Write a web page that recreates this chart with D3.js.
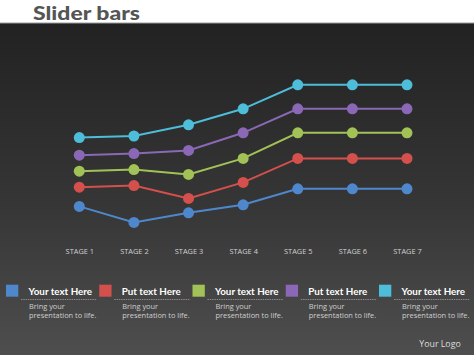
<!DOCTYPE html>
<html>
<head>
<meta charset="utf-8">
<script src="https://cdn.jsdelivr.net/npm/d3@7"></script>
<style>
html,body{margin:0;padding:0;background:#fff;}
svg{display:block;}
</style>
</head>
<body>
<svg id="chart" width="474" height="355"></svg>
<script>
const stages = ["STAGE 1","STAGE 2","STAGE 3","STAGE 4","STAGE 5","STAGE 6","STAGE 7"];
const seriesNames = ["Your text Here","Put text Here","Your text Here","Put text Here","Your text Here"];
const seriesColors = ["#4f87cd","#d4504d","#a2c257","#8a68b6","#4dbdd9"];
const blueValues   = [21, 11, 17, 22, 32, 32, 32];
const redValues    = [33, 34, 26, 36, 51, 51, 51];
const greenValues  = [43, 44, 41, 51, 67, 67, 67];
const purpleValues = [53, 54, 56, 67, 82, 82, 82];
const cyanValues   = [64, 65, 72, 82, 97, 97, 97];
const seriesValues = [blueValues, redValues, greenValues, purpleValues, cyanValues];
const descLines = ["Bring your","presentation to life."];
const titleText = "Slider bars";
const logoText = "Your Logo";

const svg = d3.select("#chart");
const W = 474, H = 355;

const defs = svg.append("defs");
const grad = defs.append("linearGradient").attr("id","bg").attr("x1",0).attr("y1",0).attr("x2",0).attr("y2",1);
grad.append("stop").attr("offset","0%").attr("stop-color","#222222");
grad.append("stop").attr("offset","55%").attr("stop-color","#363636");
grad.append("stop").attr("offset","100%").attr("stop-color","#4e4e4e");

svg.append("rect").attr("x",0).attr("y",0).attr("width",W).attr("height",H).attr("fill","#fff");
svg.append("rect").attr("x",0).attr("y",23).attr("width",W).attr("height",H-23).attr("fill","url(#bg)");
svg.append("line").attr("x1",0).attr("x2",W).attr("y1",23).attr("y2",23).attr("stroke","#9a9a9a").attr("stroke-width",1);

svg.append("text").attr("x",33).attr("y",20)
  .attr("font-family","Lato, 'Open Sans', sans-serif").attr("font-weight",900)
  .attr("font-size",19).attr("fill","#555555")
  .attr("textLength",107).attr("lengthAdjust","spacingAndGlyphs")
  .text(titleText);

const x = d3.scalePoint().domain(stages).range([79.3, 407]);
const y = d3.scaleLinear().domain([0,100]).range([240,80]);

const xAxis = d3.axisBottom(x).tickSize(0).tickPadding(0);
const gx = svg.append("g").attr("transform","translate(0,248.3)").call(xAxis);
gx.select(".domain").remove();
gx.selectAll("text").attr("font-family","'Open Sans', Lato, sans-serif").attr("font-size",7.4)
  .attr("fill","#d0d0d0").attr("dy","0.71em");

const line = d3.line().x((d,i)=>x(stages[i])).y(d=>y(d));
seriesValues.forEach((vals, si) => {
  const g = svg.append("g");
  g.append("path").datum(vals).attr("d", line).attr("fill","none")
    .attr("stroke", seriesColors[si]).attr("stroke-width",2);
  g.selectAll("circle").data(vals).join("circle")
    .attr("cx",(d,i)=>x(stages[i])).attr("cy",d=>y(d)).attr("r",5.5)
    .attr("fill", seriesColors[si]);
});

// legend
const legX = d3.scaleLinear().domain([0,4]).range([6, 379]);
seriesNames.forEach((name, i) => {
  const lx = legX(i);
  const g = svg.append("g").attr("transform",`translate(${lx},0)`);
  g.append("rect").attr("x",0).attr("y",284.7).attr("width",12.3).attr("height",12)
    .attr("fill", seriesColors[i]);
  g.append("line").attr("x1",15).attr("x2",91).attr("y1",299.5).attr("y2",299.5)
    .attr("stroke","#9a9a9a").attr("stroke-width",0.8).attr("stroke-dasharray","1.5,0.8");
  g.append("text").attr("x",22.5).attr("y",294.5)
    .attr("font-family","Lato, 'Open Sans', sans-serif").attr("font-weight",700)
    .attr("font-size",9.8).attr("fill","#ffffff").text(name);
  descLines.forEach((t, k) => {
    g.append("text").attr("x",23).attr("y",309 + k*9.3)
      .attr("font-family","'Open Sans', Lato, sans-serif")
      .attr("font-size",7.4).attr("fill","#cfcfcf").text(t);
  });
});

svg.append("text").attr("x",440).attr("y",346.5).attr("text-anchor","middle")
  .attr("font-family","'Open Sans', Lato, sans-serif").attr("font-size",8.8)
  .attr("fill","#dddddd").text(logoText);
</script>
</body>
</html>
